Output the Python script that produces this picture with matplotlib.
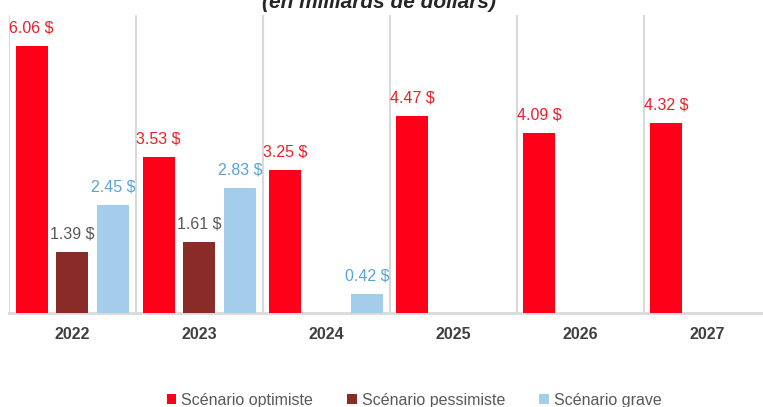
import numpy as np
import matplotlib.pyplot as plt

plt.rcParams['font.family'] = ['Liberation Sans', 'DejaVu Sans']

years = ['2022', '2023', '2024', '2025', '2026', '2027']
optimiste = [6.06, 3.53, 3.25, 4.47, 4.09, 4.32]
pessimiste = [1.39, 1.61, None, None, None, None]
grave = [2.45, 2.83, 0.42, None, None, None]

series = [
    ('Scénario optimiste', optimiste, '#FF0019', '#E8202A'),
    ('Scénario pessimiste', pessimiste, '#892B26', '#595959'),
    ('Scénario grave', grave, '#A3CDEB', '#5AA2D6'),
]

W, H = 763, 407
fig = plt.figure(figsize=(W / 100, H / 100), dpi=100)
ax = fig.add_axes([9 / W, (H - 313) / H, 761.4 / W, 298 / H])

x = np.arange(len(years))
width = 0.252
offsets = [-0.3215, 0, 0.3215]

handles = []
for (name, vals, col, lcol), off in zip(series, offsets):
    xs = [xi + off for xi, v in zip(x, vals) if v is not None]
    vs = [v for v in vals if v is not None]
    b = ax.bar(xs, vs, width, color=col, label=name, zorder=3)
    handles.append(b)
    for xi, v in zip(xs, vs):
        ax.annotate(f'{v:.2f} $', (xi, v), xytext=(0, 13), textcoords='offset points',
                    ha='center', va='center', fontsize=11.5, color=lcol)

ax.set_xlim(-0.5, len(years) - 0.5)
ax.set_ylim(0, 6.76)
ax.set_yticks([])
ax.set_xticks(x)
ax.set_xticklabels(years, fontsize=11.5, fontweight='bold', color='#404040')
ax.tick_params(axis='x', length=0, pad=10)
ax.set_xticks(np.arange(len(years) + 1) - 0.5, minor=True)
ax.tick_params(axis='x', which='minor', length=0)
ax.grid(axis='x', which='minor', color='#D9D9D9', linewidth=1.5, zorder=0)

for s in ['top', 'right', 'left']:
    ax.spines[s].set_visible(False)
ax.spines['bottom'].set_color('#D9D9D9')
ax.spines['bottom'].set_linewidth(2)

fig.text(379 / W, 1 - 3 / H, '(en milliards de dollars)', ha='center', va='center',
         fontsize=15, fontweight='bold', fontstyle='italic', color='#262626')

fig.legend(handles=handles, loc='center', bbox_to_anchor=(414 / W, 1 - 400 / H),
           ncol=3, frameon=False, fontsize=11.5, labelcolor='#595959',
           handlelength=0.6, handleheight=0.6, handletextpad=0.3, columnspacing=2.15)

fig.savefig('out.png', dpi=100)
